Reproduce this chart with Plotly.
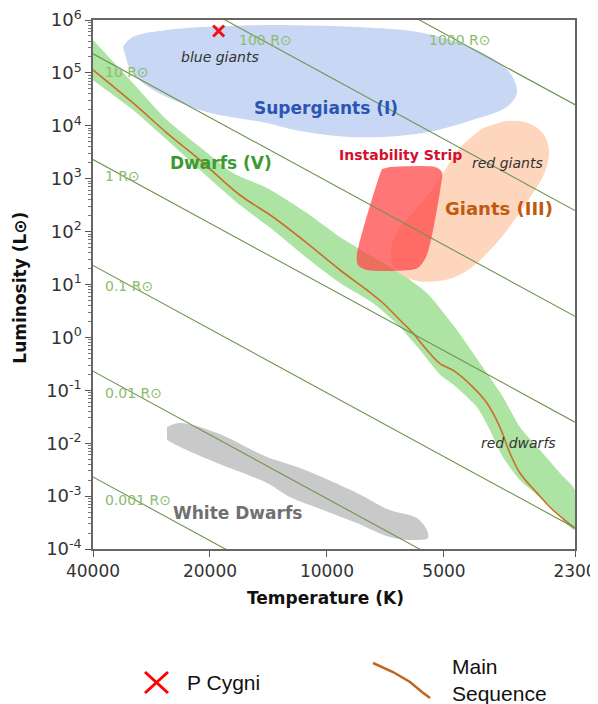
import numpy as np
import plotly.graph_objects as go

# --- data (temperature in K, luminosity in L_sun) ---
x_ticks = [40000, 20000, 10000, 5000, 2300]
y_exps = [-4, -3, -2, -1, 0, 1, 2, 3, 4, 5, 6]

radii = ["0.001", "0.01", "0.1", "1", "10", "100", "1000"]
radius_t = [40000, 2300]
radius_lum_hot = [2.3e-3, 0.23, 23, 2.3e3, 2.3e5, 2.3e7, 2.3e9]
radius_lum_cool = [2.5e-8, 2.5e-6, 2.5e-4, 0.025, 2.5, 250, 2.5e4]

ms_t = [40000, 31560, 25800, 21220, 16750, 13770, 11260, 9260, 7893, 7178, 6491,
        6010, 5532, 5122, 4742, 4210, 3877, 3589, 3383, 3188, 2883, 2622, 2302]
ms_lum = [1.14e5, 2.7e4, 7.3e3, 2.25e3, 492, 189, 60.8, 18.8, 7.87, 4.47, 2.13,
          1.21, 0.578, 0.32, 0.24, 0.115, 0.0575, 0.0202, 0.00653, 0.00274, 0.00115,
          5.46e-4, 2.49e-4]

# main-sequence band: upper edge (hot -> cool) then lower edge (cool -> hot)
dwarf_t = [40000, 31560, 25800, 21220, 17450, 14270, 11260, 9260, 7615, 6491, 5532,
           4915, 4630, 3877, 3525, 3188, 2831, 2516, 2302,
           2302, 2716, 3188, 3525, 3808, 4115, 4742, 5122, 5765, 6491, 7615, 9260,
           11260, 13770, 16750, 21220, 25800, 31560, 40000]
dwarf_lum = [4.19e5, 6.4e4, 1.29e4, 3.97e3, 1.28e3, 667, 225, 79, 33.1, 16.5, 6.9,
             2.43, 1.38, 0.212, 0.0746, 0.0202, 0.00743, 0.00274, 0.0013,
             2.29e-4, 7.41e-4, 0.00201, 0.00548, 0.0178, 0.0483, 0.13, 0.2, 0.578,
             1.57, 4.47, 10.7, 31.7, 107, 318, 1.46e3, 5.4e3, 1.99e4, 7.3e4]

super_t = [33500, 31550, 25800, 17760, 12450, 8370, 5660, 4110, 3380, 3245,
           3440, 4210, 5660, 8370, 11740, 14270, 21220, 29750, 32500]
super_lum = [3.1e5, 4.8e5, 6.5e5, 7.7e5, 8.0e5, 7.4e5, 5.7e5, 2.7e5, 1.0e5, 4.2e4,
             2.3e4, 1.3e4, 7.3e3, 6.1e3, 8.0e3, 1.13e4, 2.0e4, 6.4e4, 1.4e5]

giant_t = [3484, 3095, 2799, 2685, 2750, 3095, 3699, 4416, 5122, 6116, 6766, 6805,
           6491, 5870, 5215, 4549, 3970]
giant_lum = [1.23e4, 1.18e4, 7.6e3, 3.49e3, 1.34e3, 318, 55.8, 17.2, 11.6, 12.7, 23.4,
             55.8, 117, 279, 830, 3.8e3, 9.1e3]

strip_t = [6890, 5275, 5060, 5090, 5532, 5833, 6116, 7893, 8325, 8375, 7393, 7220]
strip_lum = [1660, 1660, 1340, 760, 36.1, 20.5, 18.8, 18.8, 23.4, 36.1, 944, 1520]

wd_t = [25800, 23890, 19190, 14270, 11740, 8375, 6890, 5870, 5532, 5499, 5870,
        6890, 8375, 10240, 12450, 14270, 19190, 23890, 25800]
wd_lum = [0.0202, 0.0241, 0.0156, 0.00548, 0.0034, 0.00115, 5.46e-4, 3.85e-4, 2.29e-4,
          1.61e-4, 1.48e-4, 1.69e-4, 3.1e-4, 5.46e-4, 9.6e-4, 0.00177, 0.00423, 0.00847, 0.0115]

p_cygni_t = [19000]
p_cygni_lum = [6.2e5]

FONT = "Verdana, DejaVu Sans, sans-serif"
fig = go.Figure()


def add_region(t, lum, color, smooth=1.0):
    fig.add_trace(go.Scatter(
        x=t, y=lum, mode="lines", fill="toself", fillcolor=color,
        line=dict(width=0, shape="spline", smoothing=smooth),
        hoverinfo="skip", showlegend=False,
    ))


add_region(wd_t, wd_lum, "#c9c9c9")
add_region(super_t, super_lum, "rgba(133,167,230,0.45)")
add_region(dwarf_t, dwarf_lum, "#ade3a3", smooth=0.7)
add_region(giant_t, giant_lum, "#fdd6bd")
add_region(strip_t, strip_lum, "rgba(255,72,72,0.75)", smooth=0.8)

fig.add_trace(go.Scatter(
    x=ms_t, y=ms_lum, mode="lines",
    line=dict(color="#c8702a", width=1.6, shape="spline", smoothing=1.0),
    showlegend=False,
))

for r, lh, lc in zip(radii, radius_lum_hot, radius_lum_cool):
    fig.add_trace(go.Scatter(
        x=radius_t, y=[lh, lc], mode="lines",
        line=dict(color="#6f9450", width=1.1), name=f"{r} R", showlegend=False,
    ))

fig.add_trace(go.Scatter(
    x=p_cygni_t, y=p_cygni_lum, mode="markers",
    marker=dict(symbol="x-thin", size=11, line=dict(width=3, color="#ee1111")),
    showlegend=False,
))

# radius labels (paper coords)
r_labels = [("1000 R⊙", 0.693, 0.962), ("100 R⊙", 0.299, 0.962), ("10 R⊙", 0.021, 0.902),
            ("1 R⊙", 0.021, 0.705), ("0.1 R⊙", 0.021, 0.497), ("0.01 R⊙", 0.021, 0.295),
            ("0.001 R⊙", 0.021, 0.093)]
for txt, xp, yp in r_labels:
    fig.add_annotation(x=xp, y=yp, xref="paper", yref="paper", text=txt, showarrow=False,
                       xanchor="left", yanchor="middle",
                       font=dict(family=FONT, size=14, color="#8cbc6c"))

region_labels = [
    ("<i>blue giants</i>", 0.2635, 0.930, 14, "#333333"),
    ("<b>Supergiants (I)</b>", 0.4834, 0.8336, 17, "#2b55b5"),
    ("<b>Dwarfs (V)</b>", 0.2656, 0.7297, 17, "#3c9a30"),
    ("<b>Instability Strip</b>", 0.637, 0.7448, 14, "#d4102c"),
    ("<i>red giants</i>", 0.859, 0.7297, 14, "#333333"),
    ("<b>Giants (III)</b>", 0.8423, 0.6446, 18, "#c05a10"),
    ("<i>red dwarfs</i>", 0.8838, 0.2004, 14, "#333333"),
    ("<b>White Dwarfs</b>", 0.2988, 0.068, 17, "#707070"),
]
for txt, xp, yp, sz, col in region_labels:
    fig.add_annotation(x=xp, y=yp, xref="paper", yref="paper", text=txt, showarrow=False,
                       xanchor="center", yanchor="middle",
                       font=dict(family=FONT, size=sz, color=col))

# axis titles
fig.add_annotation(x=0.4834, y=-0.0926, xref="paper", yref="paper",
                   text="<b>Temperature (K)</b>", showarrow=False,
                   xanchor="center", yanchor="middle",
                   font=dict(family=FONT, size=17, color="#111111"))
fig.add_annotation(x=-0.1515, y=0.494, xref="paper", yref="paper",
                   text="<b>Luminosity (L⊙)</b>", showarrow=False, textangle=-90,
                   xanchor="center", yanchor="middle",
                   font=dict(family=FONT, size=17, color="#111111"))

# custom legend below the chart
fig.add_shape(type="path", xref="paper", yref="paper",
              path="M 0.1079,-0.2325 L 0.1556,-0.2722 M 0.1079,-0.2722 L 0.1556,-0.2325",
              line=dict(color="#ff0000", width=3))
fig.add_annotation(x=0.1909, y=-0.2533, xref="paper", yref="paper", text="P Cygni",
                   showarrow=False, xanchor="left", yanchor="middle",
                   font=dict(family="Liberation Sans, Arial", size=21, color="#111111"))
fig.add_shape(type="path", xref="paper", yref="paper",
              path="M 0.5809,-0.2155 L 0.6224,-0.2325 L 0.6577,-0.2514 L 0.6826,-0.2703 L 0.6992,-0.2817",
              line=dict(color="#c0651e", width=2.5))
fig.add_annotation(x=0.7407, y=-0.2480, xref="paper", yref="paper", text="Main<br>Sequence",
                   showarrow=False, xanchor="left", yanchor="middle", align="left",
                   font=dict(family="Liberation Sans, Arial", size=21, color="#111111"))

fig.update_xaxes(
    type="log", range=[np.log10(40000), np.log10(2300)], automargin=False,
    tickvals=x_ticks, ticktext=[str(v) for v in x_ticks], ticklabeloverflow="allow",
    ticks="outside", ticklen=6, tickcolor="#555555",
    showgrid=False, zeroline=False, showline=True, linecolor="#666666", linewidth=1.5,
    mirror=True, tickfont=dict(family=FONT, size=17, color="#333333"),
)
fig.update_yaxes(
    type="log", range=[-4, 6], automargin=False, ticklabeloverflow="allow",
    tickvals=[10.0 ** e for e in y_exps], ticktext=[f"10<sup>{e}</sup>" for e in y_exps],
    ticks="outside", ticklen=6, tickcolor="#555555",
    minor=dict(ticks="outside", ticklen=3, tickcolor="#777777", dtick="D1"),
    showgrid=False, zeroline=False, showline=True, linecolor="#666666", linewidth=1.5,
    mirror=True, tickfont=dict(family=FONT, size=18, color="#333333"),
)
# the page body adds an 8px margin, so the figure is 8px smaller and margins shifted
fig.update_layout(
    width=590, height=696,
    margin=dict(l=85, r=23, t=12, b=155, autoexpand=False),
    plot_bgcolor="white", paper_bgcolor="white",
    showlegend=False,
)
fig.write_html("out.html")
